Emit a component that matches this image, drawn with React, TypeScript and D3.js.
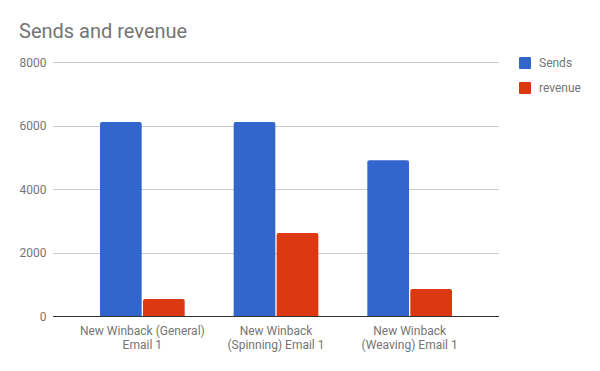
import * as d3 from 'd3'
import React, { useEffect, useRef } from 'react'

const categories = [
  ['New Winback (General)', 'Email 1'],
  ['New Winback', '(Spinning) Email 1'],
  ['New Winback', '(Weaving) Email 1'],
]
const seriesNames = ['Sends', 'revenue']
const sends = [6110, 6110, 4910]
const revenue = [545, 2620, 860]
const yTicks = [0, 2000, 4000, 6000, 8000]
const colors = ['#3366cc', '#dc3912']

const W = 600
const H = 371
const FONT = 'Roboto, Arial, sans-serif'

// top-rounded bar path
const barPath = (x: number, y: number, w: number, h: number, r: number) => {
  const rr = Math.min(r, h / 2, w / 2)
  return `M${x},${y + h}V${y + rr}Q${x},${y} ${x + rr},${y}H${x + w - rr}Q${x + w},${y} ${x + w},${y + rr}V${y + h}Z`
}

export default function App() {
  const svgRef = useRef<SVGSVGElement | null>(null)

  useEffect(() => {
    const svg = d3.select(svgRef.current)
    svg.selectAll('*').remove()

    const plotLeft = 53
    const plotRight = 499
    const y = d3.scaleLinear().domain([0, 8000]).range([316.3, 62])
    const x0 = d3
      .scaleBand<number>()
      .domain(d3.range(categories.length))
      .range([75.5, 476.5])
      .paddingInner(0)
    const x1 = d3
      .scaleBand<number>()
      .domain([0, 1])
      .range([0, 84.7])
      .paddingInner(0.03)
    const groupOffset = (x0.bandwidth() - 84.7) / 2

    svg
      .append('rect')
      .attr('width', W)
      .attr('height', H)
      .attr('fill', '#ffffff')

    svg
      .append('text')
      .attr('x', 19)
      .attr('y', 38)
      .attr('font-family', FONT)
      .attr('font-size', 20)
      .attr('fill', '#757575')
      .text('Sends and revenue')

    // gridlines + tick labels
    const grid = svg.append('g')
    yTicks.forEach((t) => {
      if (t !== 0) {
        grid
          .append('line')
          .attr('x1', plotLeft)
          .attr('x2', plotRight)
          .attr('y1', Math.round(y(t)) + 0.5)
          .attr('y2', Math.round(y(t)) + 0.5)
          .attr('stroke', '#cccccc')
          .attr('stroke-width', 1)
      }
      grid
        .append('text')
        .attr('x', 46.5)
        .attr('y', y(t) + 4.5)
        .attr('text-anchor', 'end')
        .attr('font-family', FONT)
        .attr('font-size', 12)
        .attr('fill', '#757575')
        .text(String(t))
    })

    const series = [sends, revenue]
    const bars = svg.append('g')
    categories.forEach((_, i) => {
      series.forEach((vals, s) => {
        const bx = (x0(i) ?? 0) + groupOffset + (x1(s) ?? 0)
        const top = y(vals[i])
        bars
          .append('path')
          .attr('d', barPath(bx, top, x1.bandwidth(), y(0) - top, 2))
          .attr('fill', colors[s])
      })
    })

    // baseline
    svg
      .append('line')
      .attr('x1', plotLeft)
      .attr('x2', plotRight)
      .attr('y1', 316.5)
      .attr('y2', 316.5)
      .attr('stroke', '#333333')
      .attr('stroke-width', 1.2)

    // category labels
    categories.forEach((lines, i) => {
      const cx = (x0(i) ?? 0) + x0.bandwidth() / 2
      lines.forEach((ln, k) => {
        svg
          .append('text')
          .attr('x', cx)
          .attr('y', 334.5 + k * 14.5)
          .attr('text-anchor', 'middle')
          .attr('font-family', FONT)
          .attr('font-size', 12)
          .attr('fill', '#757575')
          .text(ln)
      })
    })

    // legend
    seriesNames.forEach((name, s) => {
      const ly = 57 + s * 25
      svg
        .append('rect')
        .attr('x', 519)
        .attr('y', ly)
        .attr('width', 12)
        .attr('height', 12)
        .attr('rx', 1)
        .attr('fill', colors[s])
      svg
        .append('text')
        .attr('x', 539)
        .attr('y', ly + 10)
        .attr('font-family', FONT)
        .attr('font-size', 12)
        .attr('fill', '#757575')
        .text(name)
    })
  }, [])

  return (
    <svg
      ref={svgRef}
      width={W}
      height={H}
      style={{ position: 'absolute', left: 0, top: 0, display: 'block' }}
    ></svg>
  )
}
